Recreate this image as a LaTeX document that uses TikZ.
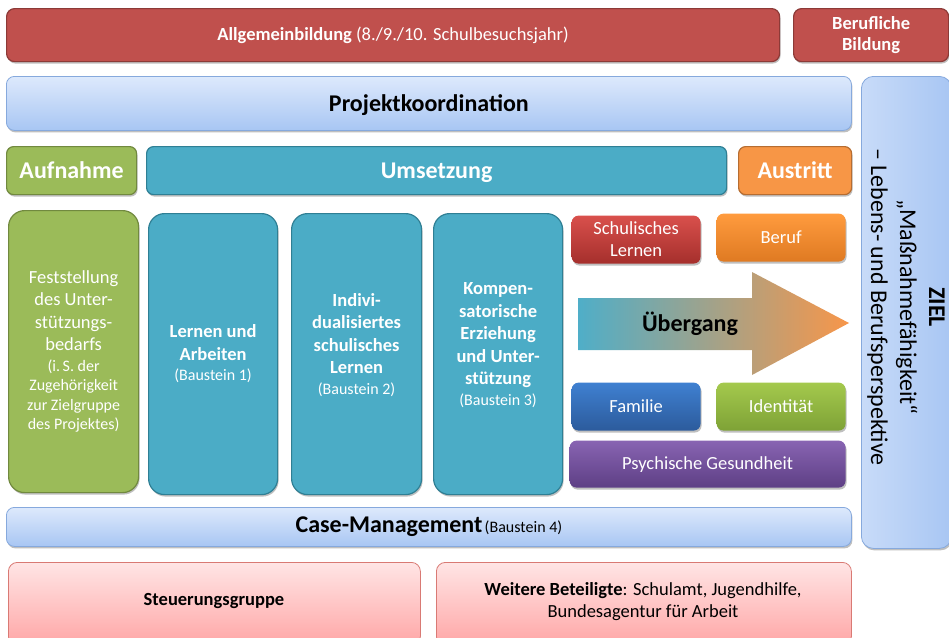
\documentclass[tikz,border=0pt]{standalone}
\usepackage{fontspec}
\setmainfont{Carlito}
\usetikzlibrary{shadows}
\definecolor{dred}{HTML}{C0504D}\definecolor{dredb}{HTML}{8C3A37}
\definecolor{lbt}{HTML}{DDE9FC}\definecolor{lbb}{HTML}{A8C6F3}\definecolor{lbd}{HTML}{86A9DD}
\definecolor{grn}{HTML}{9BBB59}\definecolor{grnb}{HTML}{71893F}
\definecolor{teal}{HTML}{4BACC6}\definecolor{tealb}{HTML}{2F7F94}
\definecolor{orn}{HTML}{F79646}\definecolor{ornb}{HTML}{B66D31}
\definecolor{srt}{HTML}{D9504C}\definecolor{srb}{HTML}{A52F2C}
\definecolor{bet}{HTML}{FF9B3E}\definecolor{beb}{HTML}{DF7A22}
\definecolor{fat}{HTML}{3F80D1}\definecolor{fab}{HTML}{2C5B9C}
\definecolor{idt}{HTML}{A4C94D}\definecolor{idb}{HTML}{7EA236}
\definecolor{pst}{HTML}{8864B2}\definecolor{psb}{HTML}{5E3F85}
\definecolor{pkt}{HTML}{FFE5E5}\definecolor{pkb}{HTML}{FFA6A6}\definecolor{pkd}{HTML}{D97A74}
\definecolor{arl}{HTML}{4FAEC8}\definecolor{arm}{HTML}{C6D3EC}\definecolor{arr}{HTML}{F7964A}
\tikzset{
  x=1pt,y=-1pt,
  base/.style={anchor=north west,inner sep=2pt,align=center,line width=1.2pt},
  shad/.style={drop shadow={shadow xshift=1pt,shadow yshift=-2pt,fill=black,opacity=0.25}},
  redbar/.style={base,rounded corners=8pt,fill=dred,draw=dredb,text=white,shad},
  bluebar/.style={base,rounded corners=8pt,top color=lbt,bottom color=lbb,draw=lbd,text=black,line width=0.8pt,shad},
  grnbox/.style={base,fill=grn,draw=grnb,text=white,shad},
  tealbox/.style={base,fill=teal,draw=tealb,text=white,shad},
  ornbox/.style={base,fill=orn,draw=ornb,text=white,shad},
  small/.style={base,rounded corners=7pt,draw=none,text=white,shad,font=\fontsize{18.5}{22}\selectfont},
  pinkbox/.style={base,rounded corners=9pt,top color=pkt,bottom color=pkb,draw=pkd,line width=0.8pt,text=black},
  head/.style={font=\fontsize{24}{26}\selectfont\bfseries},
  headbox/.style={head,text height=16.5pt,text depth=0pt},
}
\begin{document}
\begin{tikzpicture}
\useasboundingbox (0,0) rectangle (949,637);
% top row
\node[redbar,minimum width=773,minimum height=53,font=\fontsize{18.5}{21}\selectfont] (allg) at (6,8) {\textbf{Allgemeinbildung} (8./9./10. Schulbesuchsjahr)};
\node[redbar,minimum width=155,minimum height=53,font=\fontsize{18.5}{21}\selectfont\bfseries] (beruf) at (793,8) {Berufliche\\Bildung};
% Projektkoordination
\node[bluebar,minimum width=845,minimum height=54,headbox] (proj) at (6,76) {Projektkoordination};
% ZIEL
\node[base,rounded corners=12pt,left color=lbt!60!lbb,right color=lbb,draw=lbd,line width=0.8pt,minimum width=90,minimum height=472,shad] (ziel) at (861,76) {};
\node[rotate=-90,align=center,font=\fontsize{24}{29}\selectfont] (zieltxt) at (906,307) {\textbf{ZIEL}\\„Maßnahmefähigkeit“\\– Lebens- und Berufsperspektive};
% phase row
\node[grnbox,rounded corners=7pt,minimum width=130,minimum height=48,headbox] (aufn) at (6,146) {Aufnahme};
\node[tealbox,rounded corners=7pt,minimum width=580,minimum height=48,headbox] (ums) at (146,146) {Umsetzung};
\node[ornbox,rounded corners=7pt,minimum width=113,minimum height=48,headbox] (austr) at (738,146) {Austritt};
% tall boxes
\node[grnbox,rounded corners=16pt,minimum width=130,minimum height=282] (fest) at (8,210) {};
\node[align=center,text=white,font=\fontsize{18.5}{22.5}\selectfont] (festt) at (fest.center) {Feststellung\\des Unter-\\stützungs-\\bedarfs\\[-2pt]{\fontsize{16}{19.5}\selectfont (i.\,S. der}\\[-3pt]{\fontsize{16}{19.5}\selectfont Zugehörigkeit}\\[-3pt]{\fontsize{16}{19.5}\selectfont zur Zielgruppe}\\[-3pt]{\fontsize{16}{19.5}\selectfont des Projektes)}};
\node[tealbox,rounded corners=16pt,minimum width=129,minimum height=281] (b1) at (148,213) {};
\node[align=center,text=white,font=\fontsize{18.5}{22.5}\selectfont] (b1t) at (b1.center) {\textbf{Lernen und}\\\textbf{Arbeiten}\\[-2pt]{\fontsize{16}{18}\selectfont (Baustein 1)}};
\node[tealbox,rounded corners=16pt,minimum width=130,minimum height=281] (b2) at (291,213) {};
\node[align=center,text=white,font=\fontsize{18.5}{22.5}\selectfont] (b2t) at ([yshift=9pt]b2.center) {\textbf{Indivi-}\\\textbf{dualisiertes}\\\textbf{schulisches}\\\textbf{Lernen}\\[-2pt]{\fontsize{16}{18}\selectfont (Baustein 2)}};
\node[tealbox,rounded corners=16pt,minimum width=129,minimum height=281] (b3) at (433,213) {};
\node[align=center,text=white,font=\fontsize{18.5}{22.5}\selectfont] (b3t) at ([yshift=9pt]b3.center) {\textbf{Kompen-}\\\textbf{satorische}\\\textbf{Erziehung}\\\textbf{und Unter-}\\\textbf{stützung}\\[-2pt]{\fontsize{16}{18}\selectfont (Baustein 3)}};
% small colored boxes
\node[small,top color=srt,bottom color=srb,minimum width=129,minimum height=48] (schul) at (571,215) {Schulisches\\Lernen};
\node[small,top color=bet,bottom color=beb,minimum width=129,minimum height=48] (berf) at (716,213) {Beruf};
\node[small,top color=fat,bottom color=fab,minimum width=129,minimum height=48] (fam) at (571,382) {Familie};
\node[small,top color=idt,bottom color=idb,minimum width=129,minimum height=48] (ident) at (716,382) {Identität};
\node[small,top color=pst,bottom color=psb,minimum width=276,minimum height=47] (psych) at (569,440) {Psychische Gesundheit};
% arrow
\shade[left color=arl,middle color=arm,right color=arr] (578,298) -- (752,298) -- (752,272) -- (849,323) -- (752,375) -- (752,350) -- (578,350) -- cycle;
\node[head] (ueb) at (690,324) {Übergang};
% Case management
\node[bluebar,minimum width=845,minimum height=39] (case) at (6,507) {{\fontsize{24}{26}\selectfont\bfseries Case-Management} {\fontsize{16}{18}\selectfont (Baustein 4)}};
% bottom
\node[pinkbox,minimum width=412,minimum height=83] (steu) at (8,562) {};
\node[font=\fontsize{18.5}{22}\selectfont\bfseries] (steut) at (214,601) {Steuerungsgruppe};
\node[pinkbox,minimum width=415,minimum height=83] (weit) at (436,562) {};
\node[align=center,font=\fontsize{18.5}{22}\selectfont] (weitt) at (643,602) {\textbf{Weitere Beteiligte}: Schulamt, Jugendhilfe,\\Bundesagentur für Arbeit};
\end{tikzpicture}
\end{document}
